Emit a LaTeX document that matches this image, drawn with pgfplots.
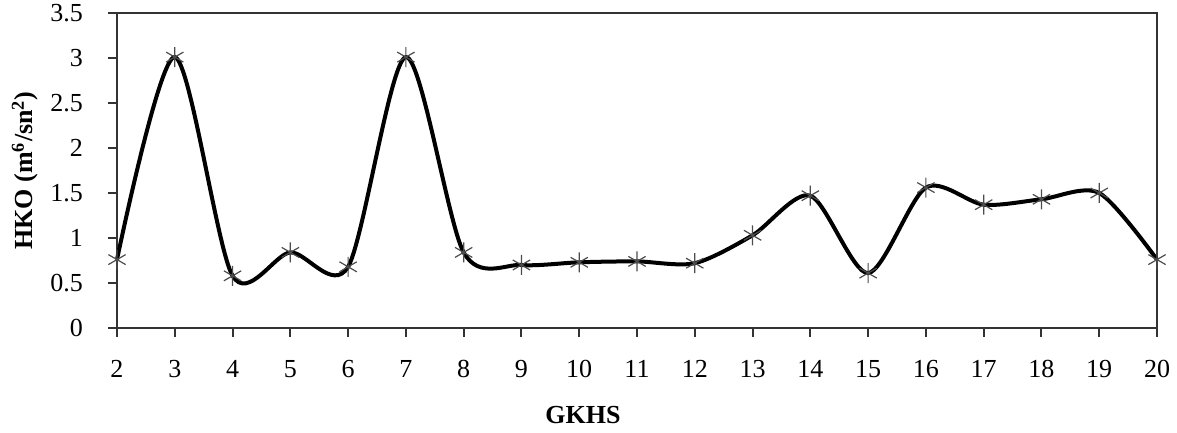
\documentclass[border=0pt]{standalone}
\usepackage{fontspec}
\setmainfont{Liberation Serif}
\usepackage{pgfplots}
\pgfplotsset{compat=1.18}
\begin{document}
\begin{tikzpicture}
\useasboundingbox (-58.5pt,-52.5pt) rectangle (530pt,164pt);
\begin{axis}[
  scale only axis,
  width=520pt, height=157.5pt,
  xmin=2, xmax=20, ymin=0, ymax=3.5,
  xtick={2,3,...,20},
  ytick={0,0.5,...,3.5},
  yticklabels={0,0.5,1,1.5,2,2.5,3,3.5},
  xtick pos=left, ytick pos=left,
  tick align=outside,
  major tick length=4.5pt,
  axis line style={line width=1pt, black!80},
  every tick/.style={line width=1pt, black!80},
  /pgf/number format/assume math mode=true,
  tick label style={font=\fontsize{13}{15}\selectfont},
  xticklabel style={yshift=-8pt},
  yticklabel style={xshift=-9pt},
  xlabel={\textbf{GKHS}},
  ylabel={\textbf{HKO (m\textsuperscript{6}/sn\textsuperscript{2})}},
  label style={font=\fontsize{13}{15}\selectfont},
  xlabel style={at={(axis description cs:0.448,-0.276)}, anchor=center},
  ylabel style={at={(axis description cs:-0.0885,0.5)}, anchor=center},
  clip=false,
]
\addplot[black, line width=2pt, smooth, tension=0.48,
  mark=asterisk, mark size=5pt,
  mark options={line width=0.6pt, black!70, solid}]
  coordinates {
  (2,0.76) (3,3.01) (4,0.58) (5,0.84) (6,0.68) (7,3.01) (8,0.84)
  (9,0.70) (10,0.73) (11,0.74) (12,0.72) (13,1.03) (14,1.47)
  (15,0.61) (16,1.56) (17,1.37) (18,1.43) (19,1.50) (20,0.76)
  };
\end{axis}
\end{tikzpicture}
\end{document}
